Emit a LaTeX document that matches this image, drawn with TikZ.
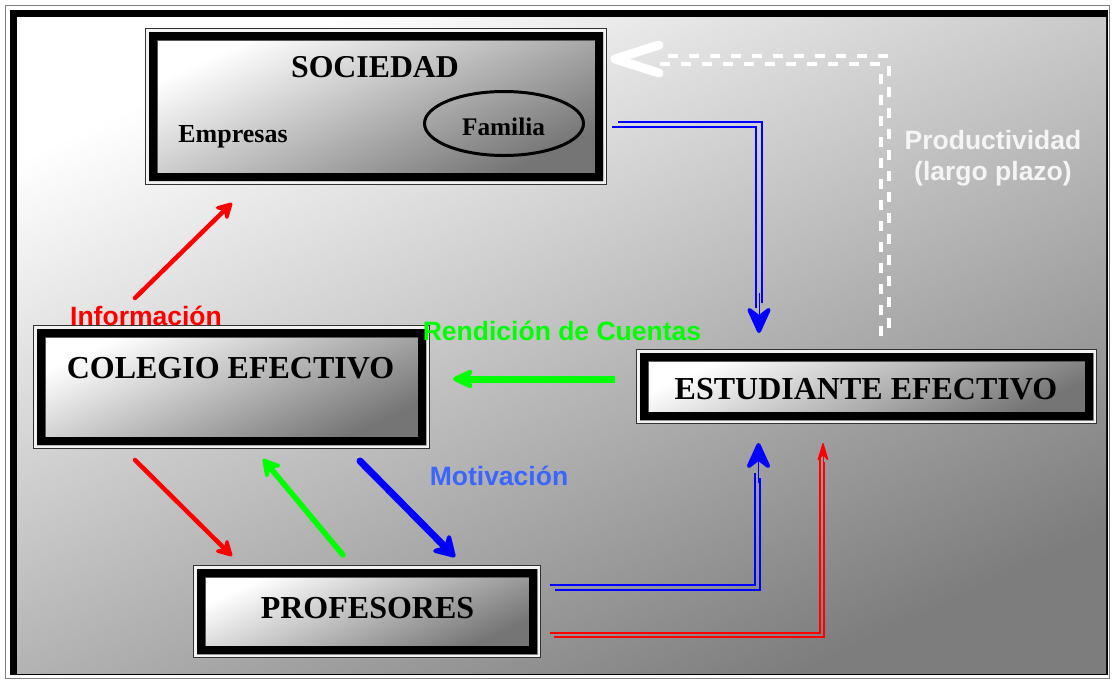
\documentclass[tikz,border=0pt]{standalone}
\usepackage{fontspec}
\setmainfont{Liberation Serif}
\newfontfamily\arialf{Liberation Sans}
\usetikzlibrary{arrows.meta,shapes.geometric}
\definecolor{bgdark}{gray}{0.49}
\definecolor{boxdark}{gray}{0.46}
\definecolor{motiv}{HTML}{3A66FF}
\definecolor{prodw}{gray}{0.96}
\definecolor{pgreen}{HTML}{00FF00}
\definecolor{pblue}{HTML}{0000FF}
\definecolor{pred}{HTML}{FF0000}
\newcommand\myringframe[1]{%
 \fill[black,even odd rule] ([xshift=-8pt,yshift=8pt]#1.north west) rectangle ([xshift=8pt,yshift=-8pt]#1.south east) (#1.north west) rectangle (#1.south east);
 \draw[white!90!gray,line width=2.2pt] ([xshift=-9.6pt,yshift=9.6pt]#1.north west) rectangle ([xshift=9.6pt,yshift=-9.6pt]#1.south east);
 \draw[black!80,line width=1pt] ([xshift=-11.2pt,yshift=11.2pt]#1.north west) rectangle ([xshift=11.2pt,yshift=-11.2pt]#1.south east);
}
\begin{document}
\begin{tikzpicture}[x=1pt,y=-1pt,
 innerbox/.style={rectangle, inner sep=0pt, outer sep=0pt, draw=gray!80!black, line width=0.8pt, top color=white, bottom color=boxdark, shading angle=25},
 boxtext/.style={font=\bfseries\fontsize{32}{36}\selectfont, anchor=base, inner sep=0pt},
 smalltext/.style={font=\bfseries\fontsize{26}{30}\selectfont, anchor=base, inner sep=0pt},
 lbl/.style={font=\arialf\bfseries\fontsize{26.5}{30}\selectfont, anchor=base, inner sep=0pt},
 sarrow/.style={line width=#1, line cap=round},
 dline/.style={line width=2pt},
 bighead/.style={-{Stealth[round,length=32pt,width=29pt,inset=11pt,line width=4pt]}},
]
\useasboundingbox (0,0) rectangle (1112,681);
% outer frame
\fill[white] (0,0) rectangle (1112,681);
\draw[gray,line width=1pt] (5,5) rectangle (1109,678);
\fill[black] (10,10) rectangle (1108,675);
\shade[top color=white, bottom color=bgdark, shading angle=25] (17,17) rectangle (1106,673);

% boxes
\node[innerbox, minimum width=438pt, minimum height=133pt] (soc) at (376,106.5) {};
\myringframe{soc}
\node[innerbox, minimum width=373pt, minimum height=100pt] (col) at (231.5,387) {};
\myringframe{col}
\node[innerbox, minimum width=437pt, minimum height=51pt] (est) at (866.5,386.5) {};
\myringframe{est}
\node[innerbox, minimum width=324pt, minimum height=69pt] (pro) at (367,611.5) {};
\myringframe{pro}

% texts in boxes
\node[boxtext, font=\bfseries\fontsize{31.8}{36}\selectfont] (socT) at (375,77.5) {SOCIEDAD};
\node[smalltext] (emp) at (233,142) {Empresas};
\node[draw, ellipse, line width=3pt, minimum width=159pt, minimum height=64pt, inner sep=0pt] (famE) at (504,123.5) {};
\node[smalltext, font=\bfseries\fontsize{25.3}{30}\selectfont] (fam) at (503.5,135) {Familia};
\node[boxtext] (colT) at (230.5,378) {COLEGIO EFECTIVO};
\node[boxtext] (estT) at (866,399) {ESTUDIANTE EFECTIVO};
\node[boxtext] (proT) at (367.5,618) {PROFESORES};

% labels
\node[lbl, text=pred] (info) at (146,325) {Información};
\node[lbl, text=pgreen] (rend) at (562,340.5) {Rendición de Cuentas};
\node[lbl, text=motiv] (moti) at (499,485.5) {Motivación};
\node[lbl, text=prodw] (prod1) at (993,149.5) {Productividad};
\node[lbl, text=prodw] (prod2) at (993,180.5) {(largo plazo)};

% coordinates
\coordinate (i1) at (135,298); \coordinate (i2) at (232,203);
\coordinate (r1) at (615,379); \coordinate (r2) at (453,379);
\coordinate (cp1) at (135,460); \coordinate (cp2) at (232,556);
\coordinate (pc1) at (343,555); \coordinate (pc2) at (263,459);
\coordinate (m1) at (360,461); \coordinate (m2) at (455,557);
\coordinate (sa) at (615,124.5); \coordinate (sb) at (759,124.5); \coordinate (sc) at (759,305); \coordinate (sd) at (759,333);
\coordinate (pa) at (552,587.5); \coordinate (pb) at (757.5,587.5); \coordinate (pcc) at (757.5,475); \coordinate (pd) at (758.5,443);
\coordinate (qa) at (552,635); \coordinate (qb) at (822,635); \coordinate (qc) at (822,460); \coordinate (qd) at (823,443);
\coordinate (wa) at (885,332); \coordinate (wb) at (885,60); \coordinate (wc) at (655,60); \coordinate (wd) at (615,59);

% straight arrows
\draw[pred, sarrow=4.5pt, -{Stealth[round,length=20pt,width=22pt,inset=7pt]}] (i1) -- (i2);
\draw[pred, sarrow=4.5pt, -{Stealth[round,length=20pt,width=22pt,inset=7pt]}] (cp1) -- (cp2);
\draw[pgreen, sarrow=5.5pt, -{Stealth[round,length=22pt,width=25pt,inset=8pt]}] (pc1) -- (pc2);
\draw[pblue, sarrow=7pt, -{Stealth[round,length=26pt,width=31pt,inset=9pt]}] (m1) -- (m2);
\draw[pgreen, line width=7pt, -{Stealth[round,length=27pt,width=25pt,inset=9pt]}] (r1) -- (r2);

% blue double from sociedad
\draw[pblue, dline] ([xshift=3pt,yshift=2.5pt]sa) -- ([xshift=3pt,yshift=2.5pt]sb) -- ([xshift=3pt,yshift=2.5pt]sc);
\draw[pblue, dline] ([xshift=-3pt,yshift=-2.5pt]sa) -- ([xshift=-3pt,yshift=-2.5pt]sb) -- ([xshift=-3pt,yshift=-2.5pt]sc);
\draw[pblue, line width=0.5pt, bighead] ([yshift=40pt]sd) -- (sd);

% blue double from profesores
\draw[pblue, dline] ([xshift=2.5pt,yshift=-2.5pt]pa) -- ([xshift=2.5pt,yshift=-2.5pt]pb) -- ([xshift=2.5pt,yshift=-2.5pt]pcc);
\draw[pblue, dline] ([xshift=-2.5pt,yshift=2.5pt]pa) -- ([xshift=-2.5pt,yshift=2.5pt]pb) -- ([xshift=-2.5pt,yshift=2.5pt]pcc);
\draw[pblue, line width=0.5pt, bighead] ([yshift=-40pt]pd) -- (pd);

% red double from profesores
\draw[pred, line width=1.4pt] ([xshift=2pt,yshift=-2pt]qa) -- ([xshift=2pt,yshift=-2pt]qb) -- ([xshift=2pt,yshift=-2pt]qc);
\draw[pred, line width=1.4pt] ([xshift=-2pt,yshift=2pt]qa) -- ([xshift=-2pt,yshift=2pt]qb) -- ([xshift=-2pt,yshift=2pt]qc);
\draw[pred, line width=0.5pt, -{Stealth[round,length=20pt,width=12pt,inset=6pt,line width=1.2pt]}] ([yshift=-30pt]qd) -- (qd);

% white dashed double (productividad)
\draw[white, line width=3.5pt, dash pattern=on 10.5pt off 10.5pt] ([xshift=4pt,yshift=4pt]wa) -- ([xshift=4pt,yshift=4pt]wb) -- ([xshift=4pt,yshift=4pt]wc);
\draw[white, line width=3.5pt, dash pattern=on 10.5pt off 10.5pt] ([xshift=-4pt,yshift=-4pt]wa) -- ([xshift=-4pt,yshift=-4pt]wb) -- ([xshift=-4pt,yshift=-4pt]wc);
\draw[white, line width=9pt, line cap=round, line join=round] ([xshift=44pt,yshift=14pt]wd) -- (wd) -- ([xshift=44pt,yshift=-14pt]wd);
\end{tikzpicture}
\end{document}
